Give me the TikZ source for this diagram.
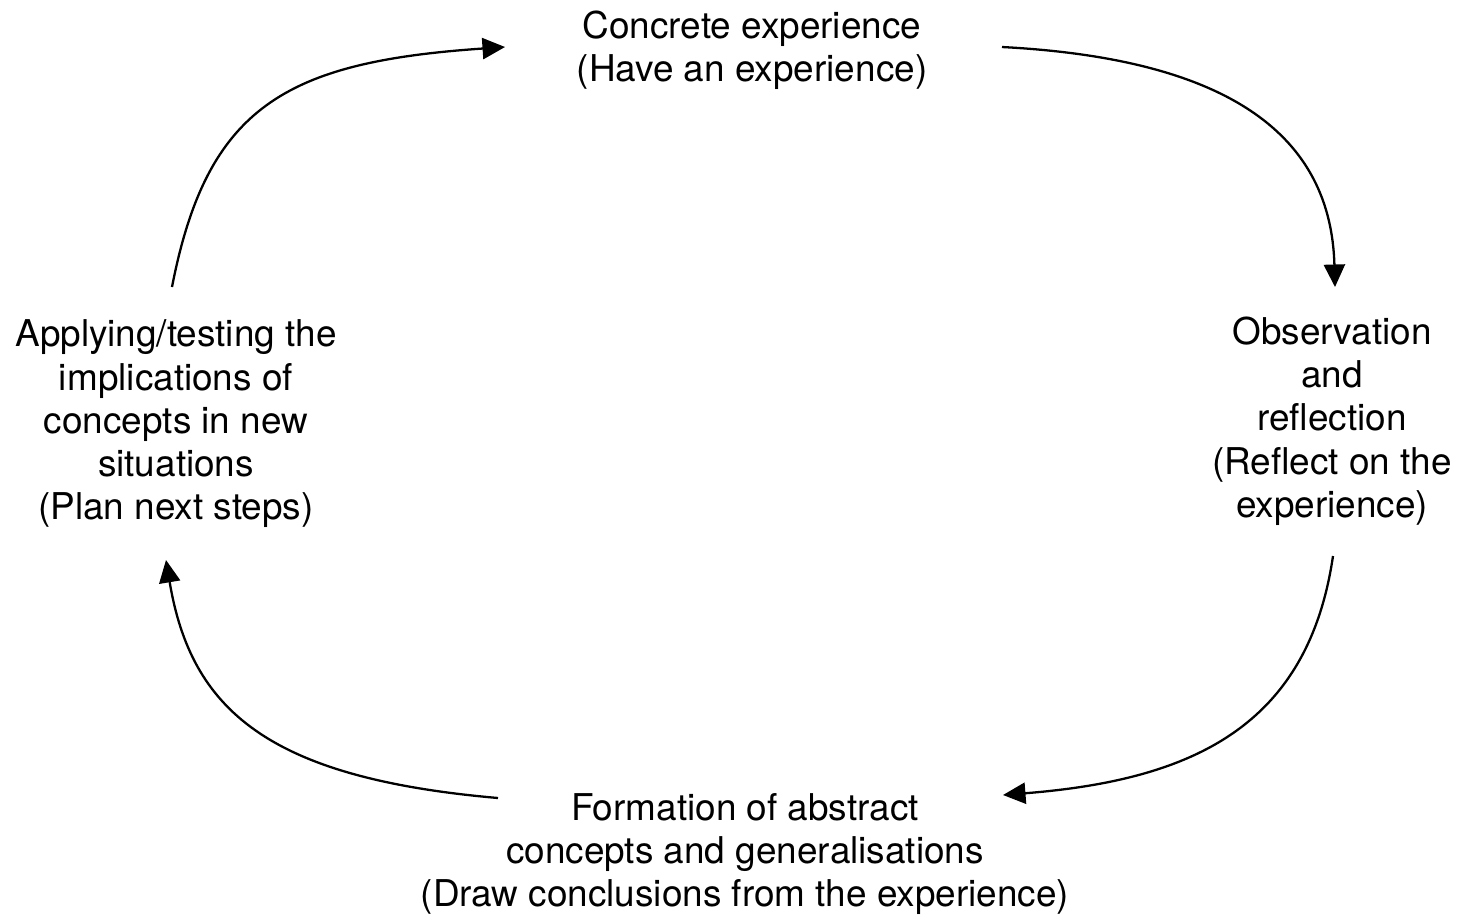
\documentclass[tikz,border=0pt]{standalone}
\usepackage{fontspec}
\setmainfont{TeX Gyre Heros}
\usepackage{tikz}
\usetikzlibrary{arrows.meta}

\begin{document}
\begin{tikzpicture}[x = .01cm, y = -.01cm,
  stage/.style = {align = center, inner sep = 0pt, font = \fontsize{10.5}{12.3}\selectfont},
  cyc/.style = {-{Triangle[length=6.4pt, width=6pt]}, line width = .65pt}]
\useasboundingbox (0,0) rectangle (1457,914);
\node[stage] (concrete) at (752,50) {Concrete experience\\(Have an experience)};
\node[stage] (observe) at (1332,421) {Observation\\and\\reflection\\(Reflect on the\\experience)};
\node[stage] (abstract) at (745,854) {Formation of abstract\\concepts and generalisations\\(Draw conclusions from the experience)};
\node[stage] (apply) at (176,424) {Applying/testing the\\implications of\\concepts in new\\situations\\(Plan next steps)};
% the cycle
\draw[cyc] ([shift={(250,-3)}]concrete.center) .. controls +(230,12) and +(-4,-150) .. ([shift={(3,-134)}]observe.center);
\draw[cyc] ([shift={(1,135)}]observe.center) .. controls +(-25,170) and +(190,-15) .. ([shift={(258,-59)}]abstract.center);
\draw[cyc] ([shift={(-247,-56)}]abstract.center) .. controls +(-230,-20) and +(25,150) .. ([shift={(-10,136)}]apply.center);
\draw[cyc] ([shift={(-4,-137)}]apply.center) .. controls +(35,-180) and +(-220,15) .. ([shift={(-247,-3)}]concrete.center);
\end{tikzpicture}
\end{document}
